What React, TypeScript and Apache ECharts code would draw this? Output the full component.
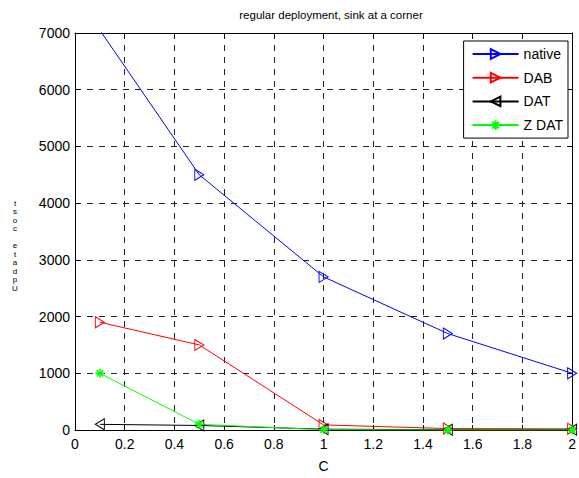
import React, { useEffect, useRef } from "react";
import * as echarts from "echarts";

const xValues = [0.1, 0.5, 1, 1.5, 2];
const nativeValues = [7050, 4500, 2700, 1700, 1000];
const dabValues = [1900, 1500, 90, 25, 20];
const datValues = [100, 80, 15, 5, 5];
const zdatValues = [1000, 100, 5, 0, 0];
const seriesNames = ["native", "DAB", "DAT", "Z DAT"];
const titleText = "regular deployment, sink at a corner";
const xLabel = "C";
const yLabel = "Update cost";

const FONT = "'Liberation Sans', Arial, Helvetica, sans-serif";

const triRight = "path://M0,0L10,5L0,10Z";
const triLeft = "path://M10,0L0,5L10,10Z";
const star = "path://M5,0L5,10M0,5L10,5M1.5,1.5L8.5,8.5M8.5,1.5L1.5,8.5";

function pairs(vals: number[]) {
  return xValues.map((x, i) => [x, vals[i]]);
}

function mkSeries(name: string, vals: number[], color: string, symbol: string, size: any, bw = 1) {
  return {
    name,
    type: "line",
    data: pairs(vals),
    symbol,
    symbolSize: size,
    showSymbol: true,
    clip: true,
    lineStyle: { color, width: 1 },
    itemStyle: { color: "transparent", borderColor: color, borderWidth: bw },
    emphasis: { disabled: true },
    xAxisIndex: 0,
    yAxisIndex: 0,
  };
}

export default function App() {
  const ref = useRef<HTMLDivElement>(null);
  useEffect(() => {
    if (!ref.current) return;
    const chart = echarts.init(ref.current, undefined, { renderer: "svg" });
    const axisCommon = {
      type: "value",
      axisLine: { show: true, onZero: false, lineStyle: { color: "#000", width: 1 } },
      axisTick: { show: true, inside: true, length: 5, lineStyle: { color: "#000" } },
    };
    const option: any = {
      animation: false,
      backgroundColor: "#fff",
      textStyle: { fontFamily: FONT },
      title: {
        text: titleText,
        left: 326,
        textAlign: "center",
        top: 4,
        textStyle: { fontSize: 11.5, fontWeight: "normal", color: "#000", fontFamily: FONT },
      },
      grid: { left: 75, right: 2, top: 33, bottom: 40, containLabel: false },
      legend: {
        orient: "vertical",
        right: 11,
        top: 41,
        itemWidth: 46,
        itemHeight: 12,
        itemGap: 9.7,
        padding: [6, 5, 6, 8],
        borderColor: "#000",
        borderWidth: 1,
        backgroundColor: "#fff",
        textStyle: { fontSize: 14, color: "#000", fontFamily: FONT },
        data: seriesNames,
      },
      xAxis: [
        {
          ...axisCommon,
          position: "bottom",
          min: 0,
          max: 2,
          interval: 0.2,
          name: xLabel,
          nameLocation: "middle",
          nameGap: 29,
          nameTextStyle: { fontSize: 14, color: "#000", fontFamily: FONT },
          axisLabel: {
            color: "#000",
            fontSize: 14,
            margin: 7,
            fontFamily: FONT,
            formatter: (v: number) => String(Math.round(v * 10) / 10),
          },
          splitLine: { show: true, lineStyle: { color: "#222", width: 1, type: [6, 6] } },
        },
        {
          ...axisCommon,
          position: "top",
          min: 0,
          max: 2,
          interval: 0.2,
          axisLabel: { show: false },
          splitLine: { show: false },
        },
      ],
      yAxis: [
        {
          ...axisCommon,
          position: "left",
          min: 0,
          max: 7000,
          interval: 1000,
          axisLabel: {
            color: "#000",
            fontSize: 14,
            margin: 5,
            fontFamily: FONT,
            formatter: (v: number) => String(Math.round(v)),
          },
          splitLine: { show: true, lineStyle: { color: "#222", width: 1, type: [6, 6] } },
        },
        {
          ...axisCommon,
          position: "right",
          min: 0,
          max: 7000,
          interval: 1000,
          axisLabel: { show: false },
          splitLine: { show: false },
        },
      ],
      graphic: [
        {
          type: "text",
          x: 15,
          y: 199,
          style: {
            text: yLabel.split("").reverse().join("\n"),
            font: "8px " + FONT,
            lineHeight: 8.5,
            fill: "#000",
            align: "center",
            textAlign: "center",
            verticalAlign: "top",
            textVerticalAlign: "top",
          },
        },
      ],
      series: [
        mkSeries("native", nativeValues, "#0000ff", triRight, [9, 11]),
        mkSeries("DAB", dabValues, "#ff0000", triRight, [9, 11]),
        mkSeries("DAT", datValues, "#000000", triLeft, [9, 11]),
        mkSeries("Z DAT", zdatValues, "#00ff00", star, 9, 1.5),
      ],
    };
    chart.setOption(option);
    return () => chart.dispose();
  }, []);
  return (
    <div
      ref={ref}
      style={{ width: 579, height: 478, position: "absolute", left: 0, top: 0 }}
    />
  );
}
